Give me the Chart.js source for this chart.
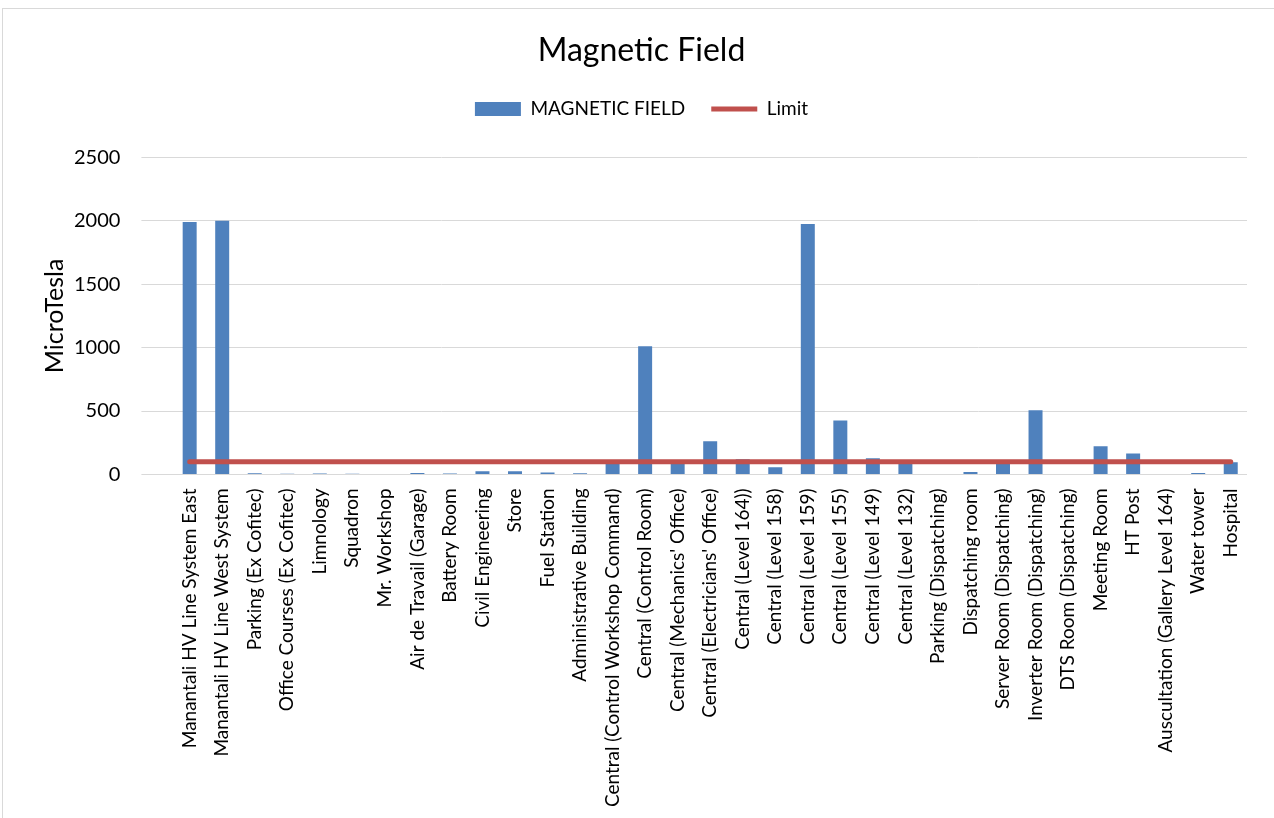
<!DOCTYPE html>
<html>
<head>
<meta charset="utf-8">
<script src="https://cdn.jsdelivr.net/npm/chart.js@4"></script>
<style>
  html, body { margin: 0; padding: 0; background: #fff; overflow: hidden; }
  #wrap { position: absolute; left: 2px; top: 8px; width: 1280px; height: 830px; border: 1px solid #d9d9d9; box-sizing: border-box; }
  #box { position: absolute; left: 0; top: 0; width: 1272px; height: 816px; }
</style>
</head>
<body>
<div id="wrap"><div id="box"><canvas id="myChart"></canvas></div></div>
<script>
const labels = [
  'Manantali HV Line System East',
  'Manantali HV Line West System',
  'Parking (Ex Cofitec)',
  'Office Courses (Ex Cofitec)',
  'Limnology',
  'Squadron',
  'Mr. Workshop',
  'Air de Travail (Garage)',
  'Battery Room',
  'Civil Engineering',
  'Store',
  'Fuel Station',
  'Administrative Building',
  'Central (Control Workshop Command)',
  'Central (Control Room)',
  "Central (Mechanics' Office)",
  "Central (Electricians' Office)",
  'Central (Level 164))',
  'Central (Level 158)',
  'Central (Level 159)',
  'Central (Level 155)',
  'Central (Level 149)',
  'Central (Level 132)',
  'Parking (Dispatching)',
  'Dispatching room',
  'Server Room (Dispatching)',
  'Inverter Room (Dispatching)',
  'DTS Room (Dispatching)',
  'Meeting Room',
  'HT Post',
  'Auscultation (Gallery Level 164)',
  'Water tower',
  'Hospital'
];

const magneticField = [1990, 2000, 10, 5, 8, 5, 3, 12, 8, 25, 25, 15, 10, 87, 1010, 85, 262, 120, 57, 1975, 425, 128, 90, 3, 18, 88, 505, 3, 223, 165, 3, 12, 95];

const limit = [100, 100, 100, 100, 100, 100, 100, 100, 100, 100, 100, 100, 100, 100, 100, 100, 100, 100, 100, 100, 100, 100, 100, 100, 100, 100, 100, 100, 100, 100, 100, 100, 100];

const yTicks = [0, 500, 1000, 1500, 2000, 2500];

const font = "Lato, 'Open Sans', sans-serif";

// extra room under the legend, like the Excel original
const legendMargin = {
  id: 'legendMargin',
  beforeInit(chart) {
    const fit = chart.legend.fit;
    chart.legend.fit = function () {
      fit.bind(chart.legend)();
      this.height += 29;
    };
  }
};

const data = {
  labels: labels,
  datasets: [{
    type: 'bar',
    label: 'MAGNETIC FIELD',
    data: magneticField,
    backgroundColor: '#4f81bd',
    borderWidth: 0,
    pointStyle: 'rect',
    categoryPercentage: 1,
    barPercentage: 0.43,
    order: 2
  }, {
    type: 'line',
    label: 'Limit',
    data: limit,
    borderColor: '#c0504d',
    backgroundColor: '#c0504d',
    borderWidth: 5,
    borderCapStyle: 'round',
    pointRadius: 0,
    pointStyle: 'line',
    tension: 0,
    order: 1
  }]
};

const config = {
  type: 'bar',
  data: data,
  plugins: [legendMargin],
  options: {
    responsive: true,
    maintainAspectRatio: false,
    animation: false,
    layout: { padding: { left: 33, right: 28, top: 8, bottom: 4 } },
    plugins: {
      title: {
        display: true,
        text: 'Magnetic Field',
        color: '#000',
        font: { family: font, size: 32, weight: 'normal' },
        padding: { top: 14, bottom: 4 }
      },
      legend: {
        position: 'top',
        labels: {
          usePointStyle: true,
          pointStyleWidth: 46,
          boxHeight: 14,
          color: '#000',
          padding: 26,
          font: { family: font, size: 19 },
          sort: (a, b) => a.datasetIndex - b.datasetIndex
        }
      },
      tooltip: { enabled: false }
    },
    scales: {
      x: {
        grid: { display: false, drawTicks: false },
        border: { display: false },
        ticks: {
          autoSkip: false,
          maxRotation: 90,
          minRotation: 90,
          color: '#000',
          padding: 14,
          font: { family: font, size: 19 }
        }
      },
      y: {
        min: 0,
        max: 2500,
        afterBuildTicks: function(axis) { axis.ticks = yTicks.map(v => ({ value: v })); },
        grid: { color: '#d9d9d9', lineWidth: 1, drawTicks: true, tickLength: 32, tickColor: '#d9d9d9' },
        border: { display: false },
        ticks: {
          color: '#000',
          padding: 21,
          font: { family: font, size: 20 },
          callback: v => String(v)
        },
        title: {
          display: true,
          text: 'MicroTesla',
          color: '#000',
          font: { family: font, size: 25 },
          padding: { top: 4, bottom: -17 }
        }
      }
    }
  }
};

const myChart = new Chart(document.getElementById('myChart'), config);
</script>
</body>
</html>
